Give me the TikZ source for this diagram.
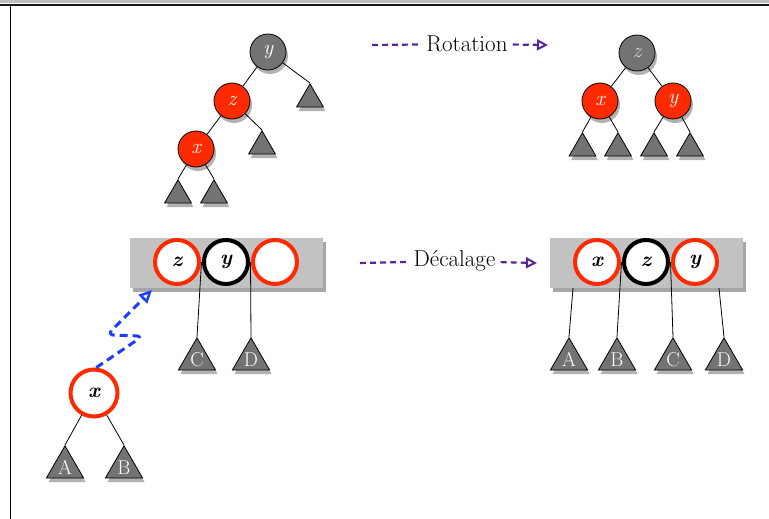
\documentclass[tikz,border=0pt]{standalone}
\usepackage{fontspec}
\usetikzlibrary{shapes.geometric,shadows,arrows.meta,calc}

\definecolor{rbred}{HTML}{FF2A00}
\definecolor{rbgray}{HTML}{737373}
\definecolor{bargray}{HTML}{C2C2C2}
\definecolor{shiftviolet}{HTML}{58289A}
\definecolor{moveblue}{HTML}{1E3CFF}

\begin{document}
\begin{tikzpicture}[x=1pt,y=-1pt,
    rbnode/.style={circle, draw=black, line width=0.8pt, minimum size=36pt, inner sep=0pt, text=white,
        font=\fontsize{21}{21}\selectfont\itshape,
        drop shadow={shadow xshift=2pt, shadow yshift=-4pt, opacity=0.3, fill=black}},
    tri/.style={regular polygon, regular polygon sides=3, draw=black, fill=rbgray, line width=0.8pt,
        inner sep=0pt, minimum size=31pt, text=white, font=\fontsize{20}{20}\selectfont,
        drop shadow={shadow xshift=2pt, shadow yshift=-4pt, opacity=0.3, fill=black}},
    bigtri/.style={tri, minimum size=43pt},
    ring/.style={circle, draw=rbred, line width=4pt, fill=white, minimum size=44pt, inner sep=0pt,
        font=\fontsize{21}{21}\selectfont\bfseries\itshape},
    bar/.style={rectangle, fill=bargray, minimum width=193pt, minimum height=50pt, inner sep=0pt,
        drop shadow={shadow xshift=3pt, shadow yshift=-4pt, opacity=0.35, fill=black}},
    edge/.style={black, line width=0.8pt},
    shiftline/.style={shiftviolet, line width=2.2pt, dash pattern=on 6pt off 4pt},
    moveline/.style={moveblue, line width=3pt, dash pattern=on 8pt off 5pt, rounded corners=7pt},
    shifttext/.style={inner sep=5pt, font=\fontsize{23}{23}\selectfont}]
    \useasboundingbox (0,0) rectangle (769,519);

    % frame
    \fill[black!25] (0,0) rectangle (769,3);
    \draw[line width=2.5pt, black!90] (0,4.8) -- (769,4.8);
    \draw[line width=1pt] (10.5,5) -- (10.5,519);

    % tree before rotation
    \node[rbnode, fill=rbgray] (ay) at (268,52) {y};
    \node[rbnode, fill=rbred] (az) at (232,101) {z};
    \node[rbnode, fill=rbred] (ax) at (196,149) {x};
    \node[tri, anchor=corner 1] (a1) at (310,83) {};
    \node[tri, anchor=corner 1] (a2) at (262,130) {};
    \node[tri, anchor=corner 1] (a3) at (178,179) {};
    \node[tri, anchor=corner 1] (a4) at (214,179) {};
    \draw[edge] (ay) -- (az);
    \draw[edge] (az) -- (ax);
    \draw[edge] (ay) -- (a1.corner 1);
    \draw[edge] (az) -- (a2.corner 1);
    \draw[edge] (ax) -- (a3.corner 1);
    \draw[edge] (ax) -- (a4.corner 1);

    % tree after rotation
    \node[rbnode, fill=rbgray, text=black!15] (bz) at (637,53) {z};
    \node[rbnode, fill=rbred] (bx) at (600,101) {x};
    \node[rbnode, fill=rbred] (by) at (673,101) {y};
    \foreach \i/\xx in {1/582.5,2/618,3/654,4/690}
        \node[tri, anchor=corner 1] (b\i) at (\xx,132) {};
    \draw[edge] (bz) -- (bx);
    \draw[edge] (bz) -- (by);
    \draw[edge] (bx) -- (b1.corner 1);
    \draw[edge] (bx) -- (b2.corner 1);
    \draw[edge] (by) -- (b3.corner 1);
    \draw[edge] (by) -- (b4.corner 1);

    % Rotation
    \node[shifttext] (rot) at (467,44) {Rotation};
    \coordinate (rot0) at (372,45);
    \coordinate (rot1) at (548,45);
    \draw[shiftline] (rot0) -- (rot);
    \draw[shiftline, -{Triangle[open, length=11pt, width=11pt, line width=2pt]}] (rot) -- (rot1);

    % node before shift
    \node[bar] (barL) at (226.5,263) {};
    \node[ring] (lz) at (177,262) {z};
    \node[ring, draw=black] (ly) at (226,262) {y};
    \node[ring] (le) at (275,262) {};
    \node[bigtri, anchor=corner 1] (lC) at (197,337) {C};
    \node[bigtri, anchor=corner 1] (lD) at (251,337) {D};
    \draw[edge] ($(lz)!.5!(ly)$ |- barL.south) -- (lC.corner 1);
    \draw[edge] ($(ly)!.5!(le)$ |- barL.south) -- (lD.corner 1);

    % node after shift
    \node[bar] (barR) at (646.5,263) {};
    \node[ring] (rx) at (597,262) {x};
    \node[ring, draw=black] (rz) at (646,262) {z};
    \node[ring] (ry) at (695,262) {y};
    \node[bigtri, anchor=corner 1] (rA) at (569,337) {A};
    \node[bigtri, anchor=corner 1] (rB) at (617,337) {B};
    \node[bigtri, anchor=corner 1] (rC) at (673,337) {C};
    \node[bigtri, anchor=corner 1] (rD) at (724,337) {D};
    \draw[edge] (rx.west |- barR.south) -- (rA.corner 1);
    \draw[edge] ($(rx)!.5!(rz)$ |- barR.south) -- (rB.corner 1);
    \draw[edge] ($(rz)!.5!(ry)$ |- barR.south) -- (rC.corner 1);
    \draw[edge] (ry.east |- barR.south) -- (rD.corner 1);

    % Decalage
    \node[shifttext] (dec) at (454.5,261) {Décalage};
    \coordinate (dec0) at (360,263);
    \coordinate (dec1) at (537,263);
    \draw[shiftline] (dec0) -- (dec);
    \draw[shiftline, -{Triangle[open, length=11pt, width=11pt, line width=2pt]}] (dec) -- (dec1);

    % x moving up
    \node[ring, minimum size=47pt] (mx) at (94,393) {x};
    \node[bigtri, anchor=corner 1] (mA) at (65,445) {A};
    \node[bigtri, anchor=corner 1] (mB) at (124,445) {B};
    \draw[edge] (mx) -- (mA.corner 1);
    \draw[edge] (mx) -- (mB.corner 1);
    \coordinate (mvEnd) at (152,290);
    \draw[moveline, -{Triangle[open, length=13pt, width=12pt, line width=2.5pt]}]
        (mx.85) -- (143,336) -- (107,335) -- (mvEnd);
\end{tikzpicture}
\end{document}
